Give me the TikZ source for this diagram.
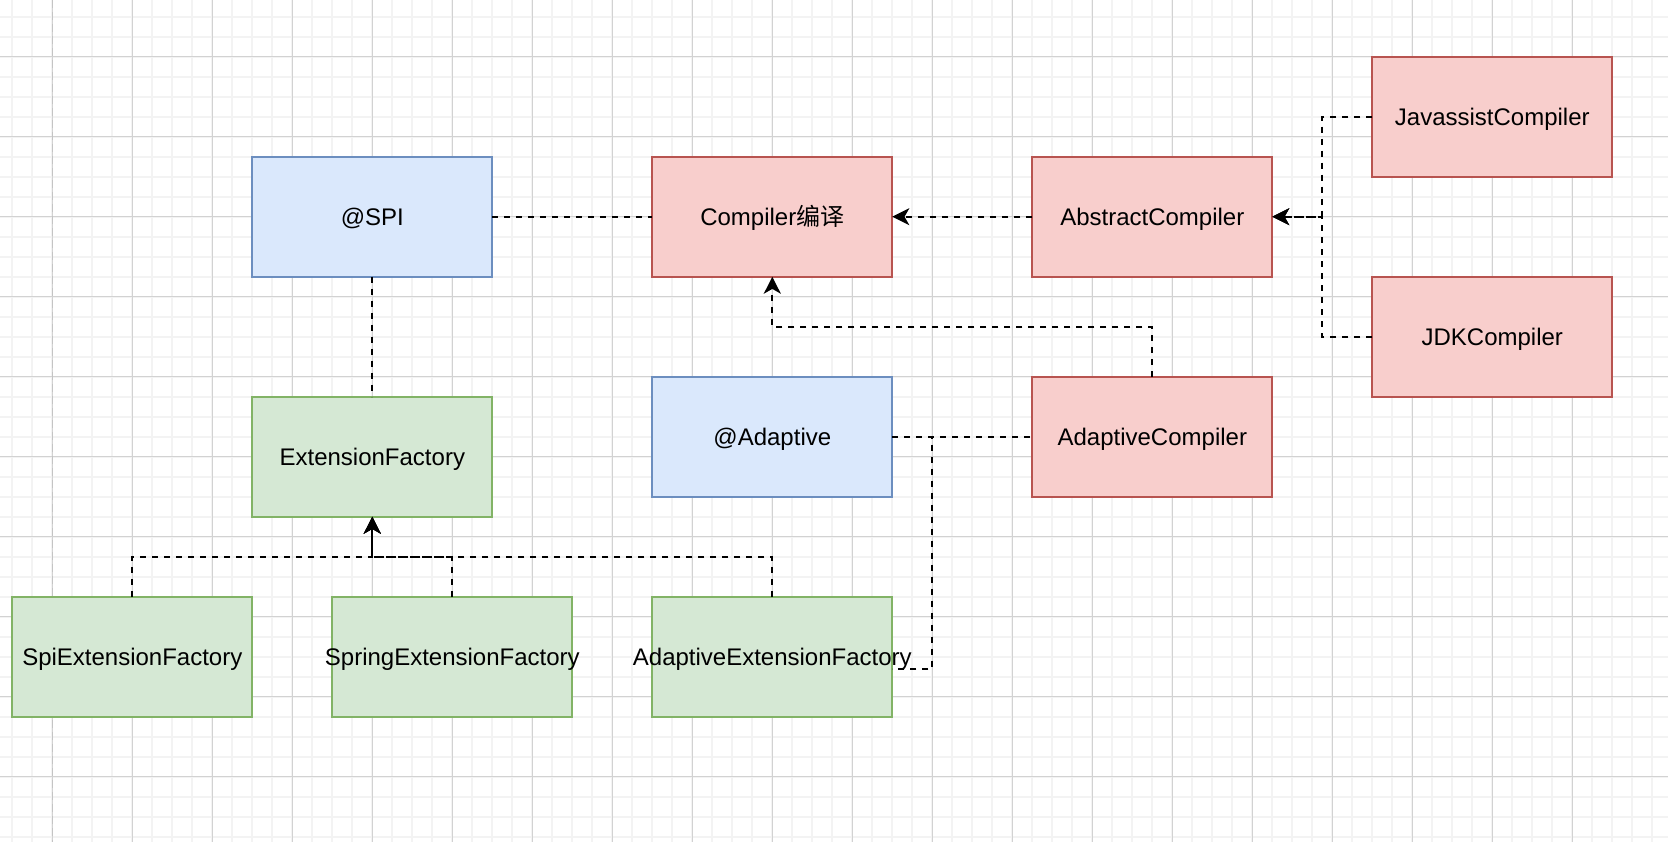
\documentclass[tikz,border=0pt]{standalone}
\usepackage{fontspec}
\setmainfont{Liberation Sans}
\newfontfamily\cjk{Noto Sans CJK SC}
\usetikzlibrary{arrows.meta}
\definecolor{blueFill}{HTML}{DAE8FC}
\definecolor{blueLine}{HTML}{6C8EBF}
\definecolor{redFill}{HTML}{F8CECC}
\definecolor{redLine}{HTML}{B85450}
\definecolor{greenFill}{HTML}{D5E8D4}
\definecolor{greenLine}{HTML}{82B366}
\definecolor{gridMinor}{HTML}{F3F3F3}
\definecolor{gridMajor}{HTML}{D2D2D2}
\definecolor{pageLine}{HTML}{C4C4C4}
\newcommand\boxlabel[1]{\makebox[0pt][c]{#1}}
\tikzset{
  box/.style={draw, line width=1pt, minimum width=120pt, minimum height=60pt,
    inner sep=0pt, outer sep=0pt, text=black, text height=8.6pt, text depth=0pt,
    font=\fontsize{12pt}{14pt}\selectfont},
  bluebox/.style={box, fill=blueFill, draw=blueLine},
  redbox/.style={box, fill=redFill, draw=redLine},
  greenbox/.style={box, fill=greenFill, draw=greenLine},
  dashline/.style={line width=1pt, black, dash pattern=on 3pt off 3pt},
  arr/.style={-{Stealth[length=8.5pt,width=8.5pt,inset=2.4pt]}},
}
\begin{document}
\begin{tikzpicture}[x=0.5pt,y=-0.5pt]
\useasboundingbox (0,0) rectangle (1668,842);
\fill[white] (0,0) rectangle (1668,842);
% minor grid
\foreach \i in {0,...,82}
  \draw[gridMinor, line width=1pt] (12.3+20*\i,0) -- (12.3+20*\i,842);
\foreach \i in {0,...,41}
  \draw[gridMinor, line width=1pt] (0,16.7+20*\i) -- (1668,16.7+20*\i);
% major grid
\foreach \i in {0,...,20}
  \draw[gridMajor, line width=0.5pt] (-27.7+80*\i,0) -- (-27.7+80*\i,842);
\foreach \i in {0,...,10}
  \draw[gridMajor, line width=0.5pt] (0,-23.3+80*\i) -- (1668,-23.3+80*\i);
% page border
\draw[pageLine, line width=0.6pt, dash pattern=on 4pt off 2pt] (52.3,0) -- (52.3,842);

% nodes
\node[redbox]   (jav) at (1492.3,116.7) {\boxlabel{JavassistCompiler}};
\node[redbox]   (jdk) at (1492.3,336.7) {\boxlabel{JDKCompiler}};
\node[redbox]   (abs) at (1152.3,216.7) {\boxlabel{AbstractCompiler}};
\node[redbox]   (comp) at (772.3,216.7) {\boxlabel{Compiler{\cjk 编译}}};
\node[bluebox]  (spi) at (372.3,216.7) {\boxlabel{@SPI}};
\node[greenbox] (ef)  at (372.3,456.7) {\boxlabel{ExtensionFactory}};
\node[bluebox]  (ada) at (772.3,436.7) {\boxlabel{@Adaptive}};
\node[redbox]   (adc) at (1152.3,436.7) {\boxlabel{AdaptiveCompiler}};
\node[greenbox] (sef) at (132.3,656.7) {\boxlabel{SpiExtensionFactory}};
\node[greenbox] (spef) at (452.3,656.7) {\boxlabel{SpringExtensionFactory}};
\node[greenbox] (aef) at (772.3,656.7) {\boxlabel{AdaptiveExtensionFactory}};

% connectors
\draw[dashline] (spi.east) -- (comp.west);
\draw[dashline] (spi.south) -- (ef.north);
\draw[dashline, arr] (abs.west) -- (comp.east);
\draw[dashline, arr] (jav.west) -- ++(-50,0) |- (abs.east);
\draw[dashline, arr] (jdk.west) -- ++(-50,0) |- (abs.east);
\draw[dashline, arr] (adc.north) -- ++(0,-50) -| (comp.south);
\draw[dashline] (ada.east) -- (adc.west);
\coordinate (aefx) at ([yshift=-6pt]aef.east);
\draw[dashline] (ada.east) -- ++(40,0) |- (aefx);
\draw[dashline, arr] (sef.north) -- ++(0,-40) -| (ef.south);
\draw[dashline, arr] (spef.north) -- ++(0,-40) -| (ef.south);
\draw[dashline, arr] (aef.north) -- ++(0,-40) -| (ef.south);
\end{tikzpicture}
\end{document}
